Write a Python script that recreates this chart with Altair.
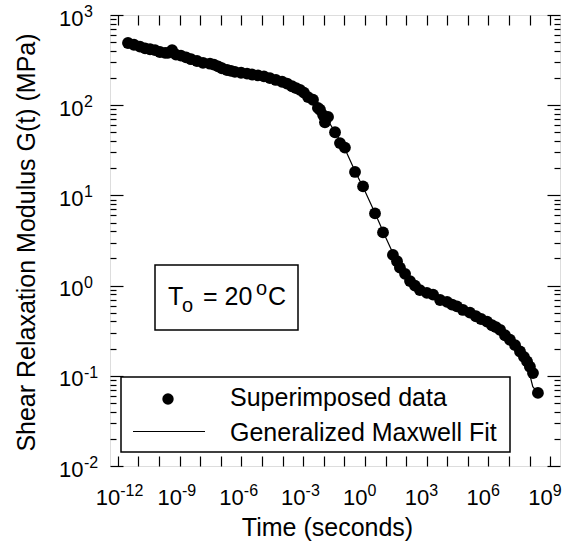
import altair as alt
import pandas as pd

# ---------------- data (log10 of time in s, log10 of G in MPa) ----------------
data_log_t = [-11.50, -11.21, -10.92, -10.67, -10.43, -10.19, -9.95, -9.70, -9.56, -9.36,
              -9.17, -8.93, -8.68, -8.44, -8.15, -7.86, -7.52, -7.33, -7.13, -6.94,
              -6.69, -6.50, -6.31, -6.01, -5.72, -5.48, -5.19, -4.90, -4.61, -4.32,
              -4.02, -3.78, -3.54, -3.34, -3.15, -2.96, -2.76, -2.52, -2.28, -2.18,
              -2.03, -1.79, -1.94, -1.45, -1.21, -0.97, -0.48, -0.09, 0.49, 0.88,
              1.36, 1.56, 1.70, 1.95, 2.19, 2.43, 2.67, 3.01, 3.31, 3.65,
              3.99, 4.23, 4.47, 4.76, 5.10, 5.39, 5.64, 5.93, 6.17, 6.36,
              6.56, 6.80, 7.04, 7.29, 7.53, 7.72, 7.87, 8.01, 8.16, 8.40]
data_log_g = [2.69, 2.67, 2.65, 2.63, 2.62, 2.61, 2.59, 2.58, 2.58, 2.61,
              2.56, 2.55, 2.53, 2.51, 2.49, 2.47, 2.46, 2.45, 2.43, 2.41,
              2.39, 2.38, 2.37, 2.36, 2.35, 2.34, 2.33, 2.32, 2.30, 2.28,
              2.26, 2.24, 2.21, 2.19, 2.17, 2.14, 2.09, 2.06, 1.97, 1.95,
              1.89, 1.87, 1.81, 1.70, 1.58, 1.53, 1.26, 1.10, 0.80, 0.59,
              0.34, 0.27, 0.20, 0.13, 0.05, 0.00, -0.05, -0.08, -0.10, -0.16,
              -0.18, -0.21, -0.23, -0.27, -0.30, -0.34, -0.37, -0.40, -0.44, -0.46,
              -0.49, -0.55, -0.60, -0.66, -0.73, -0.79, -0.84, -0.90, -0.97, -1.19]

fit_log_t = [-11.5, -10.0, -8.0, -6.0, -4.6, -4.0, -3.5, -3.0, -2.5, -2.0, -1.5, -1.0,
             -0.5, 0.0, 0.5, 1.0, 1.5, 2.0, 2.5, 3.0, 3.5, 4.0, 5.0, 6.0, 6.5, 7.0,
             7.5, 7.8, 8.0, 8.05, 8.15, 8.4]
fit_log_g = [2.69, 2.59, 2.48, 2.37, 2.30, 2.26, 2.21, 2.15, 2.06, 1.91, 1.72, 1.53,
             1.28, 1.05, 0.80, 0.54, 0.29, 0.11, -0.01, -0.08, -0.13, -0.18, -0.29, -0.41,
             -0.48, -0.59, -0.72, -0.82, -0.93, -1.03, -1.12, -1.19]

x_tick_exp = list(range(-12, 10))
x_label_exp = [-12, -9, -6, -3, 0, 3, 6, 9]
y_label_exp = [-2, -1, 0, 1, 2, 3]
y_minor_mult = [2, 3, 4, 5, 6, 7, 8, 9]

x_title = "Time (seconds)"
y_title = "Shear Relaxation Modulus G(t) (MPa)"
legend_labels = ["Superimposed data", "Generalized Maxwell Fit"]

# ---------------- build tables ----------------
pts = pd.DataFrame({"t": [10.0 ** v for v in data_log_t], "G": [10.0 ** v for v in data_log_g]})
fit = pd.DataFrame({"t": [10.0 ** v for v in fit_log_t], "G": [10.0 ** v for v in fit_log_g]})
one = pd.DataFrame({"a": [0]})

x_ticks = [10.0 ** e for e in x_tick_exp]
x_labels = [10.0 ** e for e in x_label_exp]
y_major = [10.0 ** e for e in y_label_exp]
y_minor = [m * 10.0 ** e for e in y_label_exp[:-1] for m in y_minor_mult]

x_exp_df = pd.DataFrame({"t": x_labels, "e": [str(e) for e in x_label_exp]})
y_exp_df = pd.DataFrame({"G": y_major, "e": [str(e) for e in y_label_exp]})

W, H = 450, 451
FONT = "Liberation Sans"
LAB = 22   # size of the "10"
EXP = 16   # size of the exponent

xs = alt.Scale(type="log", domain=[10 ** -12.374, 10 ** 9.471], nice=False)
ys = alt.Scale(type="log", domain=[0.01, 1000], nice=False)


def tick_axis(orient, offset, values, size):
    return alt.Axis(orient=orient, offset=offset, values=values, tickSize=size, tickWidth=1.2,
                    tickColor="black", ticks=True, labels=False, domain=False, grid=False, title=None)


x_label_axis = alt.Axis(orient="bottom", values=x_labels, labelExpr="'10'",
                        ticks=False, tickSize=0, domain=False, grid=False, labelPadding=38,
                        labelBaseline="alphabetic", labelAlign="right", labelOffset=2,
                        labelFontSize=LAB, labelFont=FONT, labelColor="black",
                        labelFlush=False, labelOverlap=False,
                        title=x_title, titleFontSize=25, titleFont=FONT, titleFontWeight="normal",
                        titleColor="black", titleX=217, titleY=69, titleAlign="center",
                        titleBaseline="alphabetic")
y_label_axis = alt.Axis(orient="left", values=y_major, labelExpr="'10'",
                        ticks=False, tickSize=0, domain=False, grid=False, labelPadding=27,
                        labelBaseline="alphabetic", labelOffset=10, labelFontSize=LAB, labelFont=FONT,
                        labelColor="black", labelFlush=False, labelOverlap=False,
                        title=y_title, titleFontSize=25, titleFont=FONT, titleFontWeight="normal",
                        titleColor="black", titleAngle=270, titleX=-76, titleY=227,
                        titleAlign="center", titleBaseline="alphabetic")

line = alt.Chart(fit).mark_line(color="black", strokeWidth=1.2).encode(
    x=alt.X("t:Q", scale=xs, axis=tick_axis("top", -H, x_ticks, 10)),
    y=alt.Y("G:Q", scale=ys, axis=tick_axis("right", -W, y_major, 13)),
)
points = alt.Chart(pts).mark_circle(color="black", opacity=1, size=140).encode(
    x=alt.X("t:Q", scale=xs, axis=x_label_axis),
    y=alt.Y("G:Q", scale=ys, axis=y_label_axis),
)
inv1 = alt.Chart(pts).mark_point(opacity=0).encode(
    x=alt.X("t:Q", scale=xs, axis=tick_axis("bottom", -H, x_ticks, 10)),
    y=alt.Y("G:Q", scale=ys, axis=tick_axis("right", -W, y_minor, 6)),
)
inv2 = alt.Chart(pts).mark_point(opacity=0).encode(
    x=alt.X("t:Q", scale=xs, axis=None),
    y=alt.Y("G:Q", scale=ys, axis=tick_axis("left", -W, y_major, 13)),
)
inv3 = alt.Chart(pts).mark_point(opacity=0).encode(
    x=alt.X("t:Q", scale=xs, axis=None),
    y=alt.Y("G:Q", scale=ys, axis=tick_axis("left", -W, y_minor, 6)),
)

# exponents of the tick labels (superscripts)
x_exp = alt.Chart(x_exp_df).mark_text(align="left", baseline="alphabetic", fontSize=EXP, font=FONT,
                                      color="black", dx=2.5).encode(
    x=alt.X("t:Q", scale=xs, axis=None), y=alt.value(H + 30), text="e:N")
y_exp = alt.Chart(y_exp_df).mark_text(align="left", baseline="alphabetic", fontSize=EXP, font=FONT,
                                      color="black", dy=2).encode(
    x=alt.value(-26), y=alt.Y("G:Q", scale=ys, axis=None), text="e:N")

# annotation box "To = 20 oC"
ann_box = alt.Chart(one).mark_rect(fill="white", stroke="black", strokeWidth=1.5).encode(
    x=alt.value(45), x2=alt.value(188), y=alt.value(250), y2=alt.value(315))


def txt(s, x, y, size, align="left"):
    return alt.Chart(one).mark_text(align=align, baseline="alphabetic", fontSize=size, font=FONT,
                                    color="black").encode(x=alt.value(x), y=alt.value(y), text=alt.value(s))


ann = [txt("T", 58, 290, 25), txt("o", 72, 297, 20), txt("= 20", 93, 290, 25),
       txt("o", 146, 280, 20), txt("C", 158, 290, 25)]

# legend
leg_box = alt.Chart(one).mark_rect(fill="white", stroke="black", strokeWidth=1.5).encode(
    x=alt.value(11), x2=alt.value(400), y=alt.value(362), y2=alt.value(437))
leg_dot = alt.Chart(one).mark_circle(color="black", opacity=1, size=130).encode(
    x=alt.value(58), y=alt.value(384))
leg_line = alt.Chart(one).mark_rule(color="black", strokeWidth=1.2).encode(
    x=alt.value(23), x2=alt.value(95), y=alt.value(416.5))
leg_txt = [txt(legend_labels[0], 120, 391, 25), txt(legend_labels[1], 120, 425.7, 25)]

chart = alt.layer(
    line, points, inv1, inv2, inv3, x_exp, y_exp, ann_box, *ann, leg_box, leg_dot, leg_line, *leg_txt
).resolve_axis(x="independent", y="independent").properties(
    width=W, height=H,
    autosize=alt.AutoSizeParams(type="none"),
    padding={"left": 110, "top": 15, "right": 6, "bottom": 75},
    background="white",
).configure_view(stroke="black", strokeWidth=2).configure(font=FONT)

chart.save("out.html", embed_options={"renderer": "svg", "actions": False})
